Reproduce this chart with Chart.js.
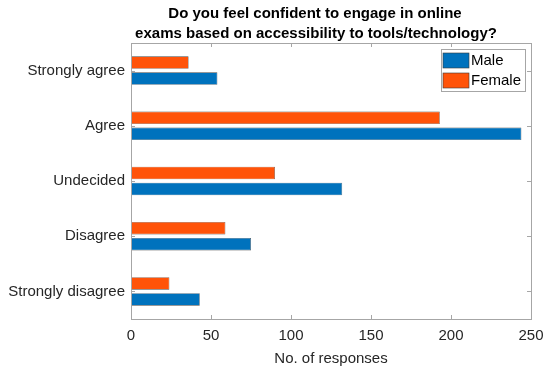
<!DOCTYPE html>
<html>
<head>
<meta charset="utf-8">
<script src="https://cdn.jsdelivr.net/npm/chart.js@4"></script>
<style>
  html, body { margin: 0; padding: 0; background: #fff; }
  #wrap { width: 550px; height: 368px; }
</style>
</head>
<body>
<div id="wrap"><canvas id="chart" width="550" height="368"></canvas></div>
<script>
// responses per answer, top to bottom
const categories = ["Strongly agree", "Agree", "Undecided", "Disagree", "Strongly disagree"];
const maleValues = [54, 244, 132, 75, 43];
const femaleValues = [36, 193, 90, 59, 24];
const xTicks = [0, 50, 100, 150, 200, 250];
const titleLines = ["Do you feel confident to engage in online", "exams based on accessibility to tools/technology?"];

const FONT = "Arial, 'Liberation Sans', Helvetica, sans-serif";
const BOX = "#a6a6a6";
const BLUE = "#0072BD";
const ORANGE = "#FF5309";

// axes box, inward ticks, title and legend, drawn the MATLAB way
const matlabFrame = {
    id: 'matlabFrame',
    afterDraw(chart) {
        const ctx = chart.ctx;
        const a = chart.chartArea;
        const x = chart.scales.x, y = chart.scales.y;
        ctx.save();
        ctx.strokeStyle = BOX;
        ctx.lineWidth = 1;
        ctx.strokeRect(Math.round(a.left) + 0.5, Math.round(a.top) + 0.5,
            Math.round(a.right - a.left), Math.round(a.bottom - a.top));
        ctx.beginPath();
        xTicks.forEach(v => {
            const px = Math.round(x.getPixelForValue(v)) + 0.5;
            ctx.moveTo(px, a.bottom); ctx.lineTo(px, a.bottom - 4);
            ctx.moveTo(px, a.top); ctx.lineTo(px, a.top + 4);
        });
        categories.forEach((c, i) => {
            const py = Math.round(y.getPixelForValue(i)) + 0.5;
            ctx.moveTo(a.left, py); ctx.lineTo(a.left + 4, py);
            ctx.moveTo(a.right, py); ctx.lineTo(a.right - 4, py);
        });
        ctx.stroke();

        // title
        ctx.fillStyle = "#000";
        ctx.font = "bold 15px " + FONT;
        ctx.textAlign = "center";
        ctx.textBaseline = "middle";
        ctx.fillText(titleLines[0], 315, 14);
        ctx.fillText(titleLines[1], 316, 34);

        // legend
        const lx = 441, ly = 49, lw = 84, lh = 42;
        ctx.fillStyle = "#fff";
        ctx.fillRect(lx, ly, lw, lh);
        ctx.strokeStyle = BOX;
        ctx.strokeRect(lx + 0.5, ly + 0.5, lw, lh);
        const items = [["Male", BLUE], ["Female", ORANGE]];
        items.forEach(([name, col], i) => {
            const sy = 53 + i * 20;
            ctx.fillStyle = col;
            ctx.fillRect(443, sy, 26, 15);
            ctx.strokeStyle = "#3a3a3a";
            ctx.lineWidth = 0.6;
            ctx.strokeRect(443, sy, 26, 15);
            ctx.fillStyle = "#000";
            ctx.font = "15px " + FONT;
            ctx.textAlign = "left";
            ctx.fillText(name, 471, sy + 8);
        });
        ctx.restore();
    }
};

new Chart(document.getElementById('chart').getContext('2d'), {
    type: 'bar',
    data: {
        labels: categories,
        datasets: [
            { label: 'Female', data: femaleValues, backgroundColor: ORANGE,
              borderColor: '#4a4a4a', borderWidth: 0.6, borderSkipped: false },
            { label: 'Male', data: maleValues, backgroundColor: BLUE,
              borderColor: '#4a4a4a', borderWidth: 0.6, borderSkipped: false }
        ]
    },
    options: {
        indexAxis: 'y',
        responsive: false,
        animation: false,
        categoryPercentage: 0.58,
        barPercentage: 0.78,
        layout: { padding: { left: 0, right: 19, top: 43, bottom: 0 } },
        plugins: {
            legend: { display: false },
            title: { display: false },
            tooltip: { enabled: false }
        },
        scales: {
            x: {
                type: 'linear',
                min: 0, max: 250,
                afterBuildTicks(s) { s.ticks = xTicks.map(v => ({ value: v })); },
                afterFit(s) { s.height = 49; s.paddingLeft = 0; s.paddingRight = 0; },
                grid: { display: false, drawTicks: false },
                border: { display: false },
                ticks: { color: '#262626', font: { size: 15, family: FONT }, padding: 8, maxRotation: 0 },
                title: { display: true, text: 'No. of responses', color: '#262626',
                         font: { size: 15, family: FONT }, padding: { top: 0, bottom: 0 } }
            },
            y: {
                type: 'category',
                afterFit(s) { s.width = 131; s.paddingTop = 0; s.paddingBottom = 0; },
                grid: { display: false, drawTicks: false },
                border: { display: false },
                ticks: { color: '#262626', font: { size: 15, family: FONT }, padding: 6 }
            }
        }
    },
    plugins: [matlabFrame]
});
</script>
</body>
</html>
